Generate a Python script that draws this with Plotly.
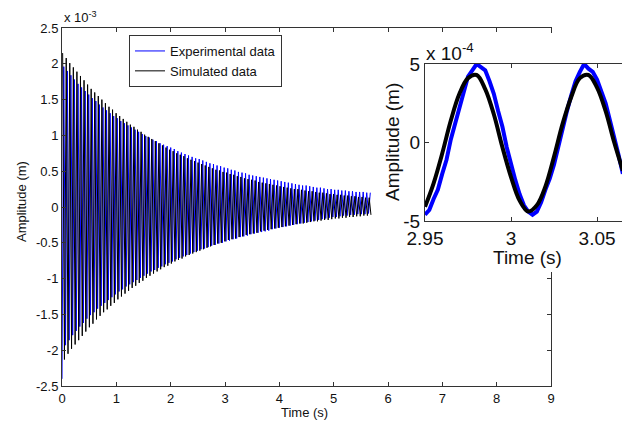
import numpy as np
import plotly.graph_objects as go

# ---------------- data ----------------
# Main plot: oscillation peaks / troughs (units of 1e-3 m), one per period (s)
PERIOD = 0.0656
EXP_T0 = 0.0
SIM_T0 = 0.012

exp_troughs = [-2.40, -1.93, -1.86, -1.79, -1.73, -1.67, -1.62, -1.56, -1.51, -1.47, -1.42, -1.38, -1.34,
               -1.30, -1.26, -1.22, -1.18, -1.15, -1.11, -1.08, -1.05, -1.02, -0.99, -0.96, -0.93, -0.90,
               -0.88, -0.85, -0.83, -0.80, -0.78, -0.76, -0.73, -0.71, -0.69, -0.67, -0.65, -0.63, -0.61,
               -0.59, -0.58, -0.56, -0.54, -0.53, -0.51, -0.50, -0.48, -0.47, -0.45, -0.44, -0.42, -0.41,
               -0.40, -0.38, -0.37, -0.36, -0.35, -0.34, -0.33, -0.31, -0.30, -0.29, -0.28, -0.27, -0.26,
               -0.25, -0.24, -0.23, -0.22, -0.21, -0.20, -0.19, -0.18, -0.17, -0.16, -0.15, -0.14, -0.14,
               -0.13, -0.12, -0.12, -0.11, -0.11, -0.10, -0.10, -0.10, -0.09]
exp_peaks = [1.96, 1.90, 1.84, 1.78, 1.72, 1.67, 1.62, 1.57, 1.52, 1.48, 1.43, 1.39, 1.35, 1.31, 1.27,
             1.24, 1.20, 1.17, 1.14, 1.11, 1.08, 1.05, 1.02, 0.99, 0.97, 0.94, 0.92, 0.89, 0.87, 0.85,
             0.83, 0.81, 0.78, 0.76, 0.74, 0.72, 0.70, 0.68, 0.67, 0.65, 0.63, 0.61, 0.60, 0.58, 0.57,
             0.55, 0.54, 0.52, 0.51, 0.49, 0.48, 0.47, 0.45, 0.44, 0.43, 0.42, 0.41, 0.40, 0.39, 0.38,
             0.37, 0.36, 0.35, 0.34, 0.33, 0.32, 0.31, 0.30, 0.30, 0.29, 0.28, 0.27, 0.27, 0.26, 0.25,
             0.25, 0.24, 0.24, 0.23, 0.23, 0.22, 0.22, 0.21, 0.21, 0.21, 0.20, 0.20]
sim_peaks = [2.15, 2.08, 2.01, 1.95, 1.89, 1.83, 1.77, 1.71, 1.65, 1.60, 1.55, 1.50, 1.45, 1.40, 1.36,
             1.31, 1.27, 1.23, 1.19, 1.15, 1.12, 1.08, 1.05, 1.01, 0.98, 0.95, 0.92, 0.89, 0.86, 0.83,
             0.80, 0.78, 0.75, 0.73, 0.71, 0.68, 0.66, 0.64, 0.62, 0.60, 0.58, 0.56, 0.54, 0.52, 0.51,
             0.49, 0.48, 0.46, 0.45, 0.43, 0.42, 0.40, 0.39, 0.38, 0.37, 0.35, 0.34, 0.33, 0.32, 0.31,
             0.30, 0.29, 0.28, 0.27, 0.26, 0.25, 0.25, 0.24, 0.23, 0.22, 0.22, 0.21, 0.20, 0.20, 0.19,
             0.18, 0.18, 0.17, 0.17, 0.16, 0.16, 0.15, 0.15, 0.14, 0.14, 0.13, 0.13]
sim_troughs = [-2.13, -2.05, -1.98, -1.92, -1.86, -1.80, -1.74, -1.68, -1.63, -1.57, -1.52, -1.47, -1.43,
               -1.38, -1.34, -1.29, -1.25, -1.21, -1.17, -1.13, -1.10, -1.06, -1.03, -0.99, -0.96, -0.93,
               -0.90, -0.87, -0.84, -0.82, -0.79, -0.76, -0.74, -0.72, -0.69, -0.67, -0.65, -0.63, -0.61,
               -0.59, -0.57, -0.55, -0.53, -0.51, -0.50, -0.48, -0.46, -0.45, -0.44, -0.42, -0.41, -0.39,
               -0.38, -0.37, -0.36, -0.34, -0.33, -0.32, -0.31, -0.30, -0.29, -0.28, -0.27, -0.26, -0.25,
               -0.24, -0.23, -0.23, -0.22, -0.21, -0.20, -0.20, -0.19, -0.18, -0.18, -0.17, -0.16, -0.16,
               -0.15, -0.15, -0.14, -0.14, -0.13, -0.13, -0.12, -0.12, -0.11]

# Inset (units of 1e-4 m)
inset_exp_t = [2.950, 2.9525, 2.955, 2.9575, 2.960, 2.9625, 2.965, 2.9675, 2.970, 2.9725, 2.975, 2.9775,
               2.980, 2.9825, 2.985, 2.9875, 2.990, 2.9925, 2.995, 2.9975, 3.000, 3.0025, 3.005, 3.0075,
               3.010, 3.0125, 3.015, 3.0175, 3.020, 3.0225, 3.025, 3.0275, 3.030, 3.0325, 3.035, 3.0375,
               3.040, 3.0425, 3.045, 3.0475, 3.050, 3.0525, 3.055, 3.0575, 3.060, 3.0625, 3.065]
inset_exp_y = [-4.6, -4.3, -3.6, -3.0, -2.0, -1.1, 0.2, 1.2, 2.4, 3.3, 4.2, 4.6, 5.0, 4.8, 4.6, 3.9, 3.1,
               2.0, 1.0, -0.3, -1.4, -2.4, -3.3, -4.0, -4.4, -4.6, -4.4, -3.8, -3.0, -2.3, -1.4, -0.2, 0.9,
               2.0, 3.0, 3.9, 4.5, 5.0, 4.7, 4.5, 4.0, 3.3, 2.5, 1.4, 0.4, -0.8, -2.0]
inset_sim_t = [2.950, 2.955, 2.960, 2.965, 2.970, 2.975, 2.980, 2.985, 2.990, 2.995, 3.000, 3.005,
               3.010, 3.015, 3.020, 3.025, 3.030, 3.035, 3.040, 3.045, 3.050, 3.055, 3.060, 3.065]
inset_sim_y = [-4.1, -2.6, -0.7, 1.4, 3.1, 4.1, 4.3, 3.4, 1.8, -0.3, -2.2, -3.7, -4.4, -4.0, -2.8,
               -0.9, 1.2, 2.9, 4.1, 4.3, 3.5, 2.0, 0.0, -1.8]

main_xticks = [0, 1, 2, 3, 4, 5, 6, 7, 8, 9]
main_yticks = [-2.5, -2, -1.5, -1, -0.5, 0, 0.5, 1, 1.5, 2, 2.5]
main_yticktext = ["-2.5", "-2", "-1.5", "-1", "-0.5", "0", "0.5", "1", "1.5", "2", "2.5"]
inset_xticks = [2.95, 3.0, 3.05]
inset_xticktext = ["2.95", "3", "3.05"]
inset_yticks = [-5, 0, 5]
inset_yticktext = ["-5", "0", "5"]

# ---------------- figure ----------------
W, H = 622, 421
FONT = "Liberation Sans, Arial, sans-serif"
AX = "#333333"


def px_x(p):
    return p / W


def px_y(p):
    return (H - p) / H


def interleave(first, second, t0):
    """merge two alternating extreme sequences onto one time axis"""
    t_first = t0 + PERIOD * np.arange(len(first))
    t_second = t0 + PERIOD / 2 + PERIOD * np.arange(len(second))
    t = np.concatenate([t_first, t_second])
    v = np.concatenate([np.asarray(first), np.asarray(second)])
    order = np.argsort(t, kind="stable")
    return t[order], v[order]


exp_t, exp_v = interleave(exp_troughs, exp_peaks, EXP_T0)
sim_t, sim_v = interleave(sim_peaks, sim_troughs, SIM_T0)

fig = go.Figure()
fig.add_trace(go.Scatter(x=exp_t, y=exp_v, mode="lines", name="Experimental data",
                         line=dict(color="#0000ff", width=1), xaxis="x", yaxis="y"))
fig.add_trace(go.Scatter(x=sim_t, y=sim_v, mode="lines", name="Simulated data",
                         line=dict(color="#000000", width=1), xaxis="x", yaxis="y"))
# blank subplot acting as white backing of the inset
fig.add_trace(go.Scatter(x=[None], y=[None], xaxis="x2", yaxis="y2", showlegend=False,
                         hoverinfo="skip", mode="lines"))
# inset
fig.add_trace(go.Scatter(x=inset_exp_t, y=inset_exp_y, mode="lines", showlegend=False,
                         line=dict(color="#0000ff", width=4), xaxis="x3", yaxis="y3"))
fig.add_trace(go.Scatter(x=inset_sim_t, y=inset_sim_y, mode="lines", showlegend=False,
                         line=dict(color="#000000", width=4, shape="spline"), xaxis="x3", yaxis="y3"))

common = dict(showgrid=False, zeroline=False, showline=True, linecolor=AX, linewidth=1,
              ticks="inside", tickcolor=AX, ticklen=4, automargin=False)
blank = dict(showgrid=False, zeroline=False, showline=False, showticklabels=False, ticks="",
             automargin=False)

fig.update_layout(
    template="none",
    width=W, height=H, autosize=False,
    margin=dict(l=0, r=0, t=0, b=0, pad=0),
    paper_bgcolor="white", plot_bgcolor="#ffffff",
    font=dict(family=FONT, color="#111111"),
    showlegend=True,
    legend=dict(x=px_x(129), y=px_y(35), xanchor="left", yanchor="top",
                bgcolor="white", bordercolor=AX, borderwidth=1,
                font=dict(size=13, family=FONT, color="#111111"),
                tracegroupgap=0, itemwidth=30),
    xaxis=dict(domain=[px_x(62), px_x(551)], range=[0, 9], tickvals=main_xticks,
               mirror="ticks", tickfont=dict(size=13), anchor="y", **common),
    yaxis=dict(domain=[px_y(386), px_y(28)], range=[-2.5, 2.5], tickvals=main_yticks,
               ticktext=main_yticktext, mirror="ticks", tickfont=dict(size=13), anchor="x", **common),
    xaxis2=dict(domain=[px_x(373), 1.0], range=[0, 1], anchor="y2", **blank),
    yaxis2=dict(domain=[px_y(272), px_y(33)], range=[0, 1], anchor="x2", **blank),
    xaxis3=dict(domain=[px_x(425), 1.0], range=[2.95, 3.0645], tickvals=inset_xticks,
                ticktext=inset_xticktext, mirror="ticks", tickfont=dict(size=19), anchor="y3", **common),
    yaxis3=dict(domain=[px_y(221), px_y(64)], range=[-5, 5], tickvals=inset_yticks,
                ticktext=inset_yticktext, mirror=False, tickfont=dict(size=19), anchor="x3", **common),
)

ann = [
    dict(text="Time (s)", x=px_x(304), y=px_y(412), font=dict(size=13)),
    dict(text="Amplitude (m)", x=px_x(21), y=px_y(202), textangle=-90, font=dict(size=13)),
    dict(text="x 10<sup>-3</sup>", x=px_x(62), y=px_y(17), xanchor="left", font=dict(size=13)),
    dict(text="Time (s)", x=px_x(527), y=px_y(257), font=dict(size=19)),
    dict(text="Amplitude (m)", x=px_x(392), y=px_y(142), textangle=-90, font=dict(size=19)),
    dict(text="x 10<sup>-4</sup>", x=px_x(424), y=px_y(52), xanchor="left", font=dict(size=19)),
]
for a in ann:
    a.setdefault("xanchor", "center")
    fig.add_annotation(xref="paper", yref="paper", showarrow=False, yanchor="middle", **a)

fig.write_html("out.html", config={"displayModeBar": False},
               post_script="document.body.style.margin='0px';document.body.style.overflow='hidden';")
